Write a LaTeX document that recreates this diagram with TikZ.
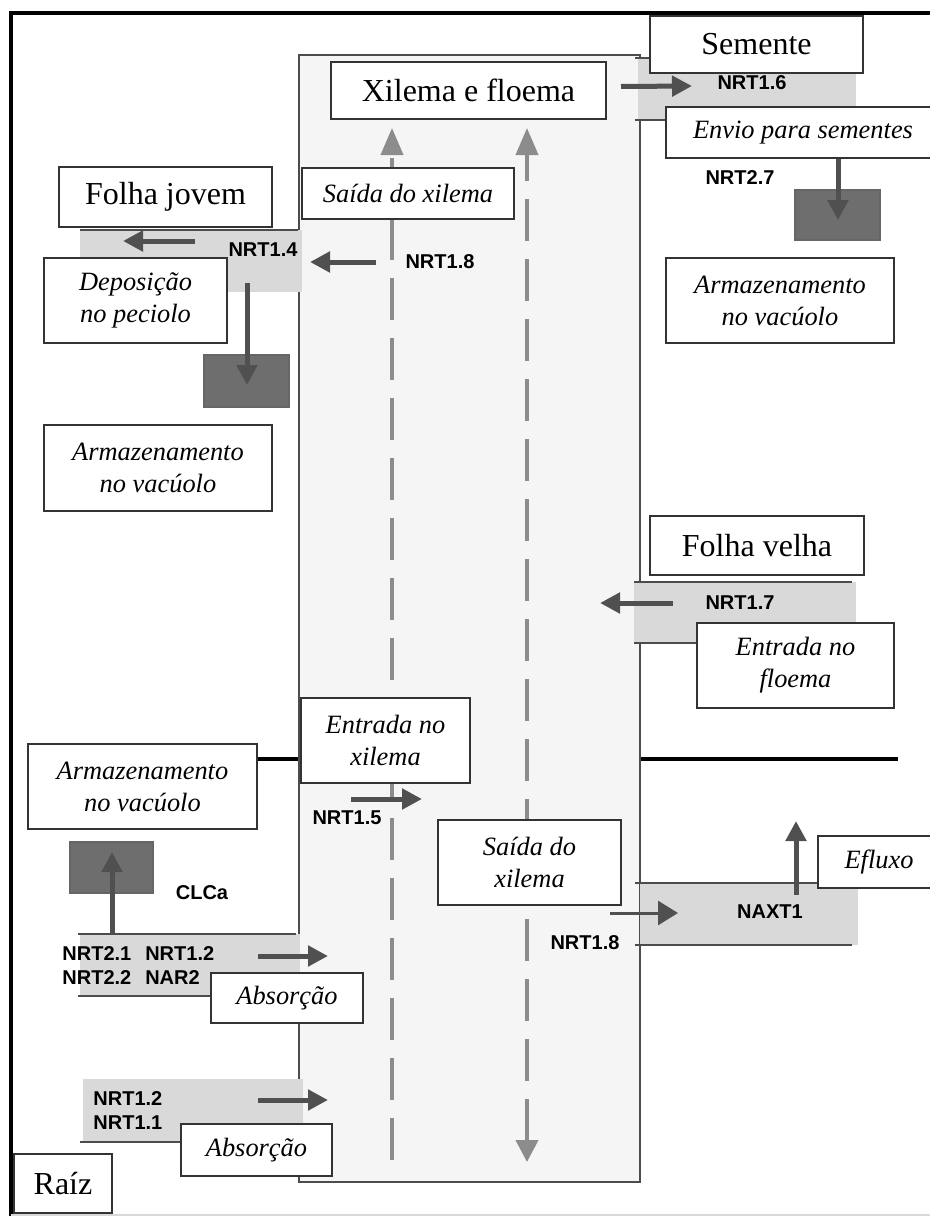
\documentclass[tikz,border=0pt]{standalone}
\usepackage{fontspec}
\setmainfont{Liberation Serif}
\setsansfont{Liberation Sans}
\usetikzlibrary{arrows.meta}
\definecolor{painel}{HTML}{F5F5F5}
\definecolor{faixa}{HTML}{D9D9D9}
\definecolor{seta}{HTML}{505050}
\definecolor{tracejado}{HTML}{8C8C8C}
\definecolor{vacuolo}{HTML}{6E6E6E}

\begin{document}
\begin{tikzpicture}[x=0.5pt,y=-0.5pt,
	caixa/.style={draw=black!80,fill=white,line width=1pt,inner sep=0pt,align=center},
	titulo/.style={caixa,font=\fontsize{16}{19}\selectfont},
	rotulo/.style={caixa,font=\fontsize{13.2}{16}\selectfont\itshape},
	gene/.style={font=\fontsize{10}{12}\selectfont\sffamily\bfseries,inner sep=0pt,align=left},
	faixa/.style={fill=faixa,draw=none},
	borda/.style={draw=black!70,line width=1pt},
	seta/.style={draw=seta,line width=2.5pt,-{Triangle[length=10pt,width=10pt]}},
	fluxo/.style={draw=tracejado,line width=2pt,dash pattern=on 21pt off 9pt},
	vac/.style={fill=vacuolo,draw=black!60,line width=1pt,inner sep=0pt}]
	\useasboundingbox (0,0) rectangle (930,1216);
	\draw[black,line width=2pt] (940,13) -- (11,13) -- (11,1216);
	\draw[black!15,line width=1pt] (11,1215) -- (930,1215);
	\draw[black,line width=2pt] (257,759) -- (898,759);
	\draw[borda,fill=painel] (299,55) rectangle (640,1182);
	% faixas
	\fill[faixa] (80,230) rectangle (302,292);
	\draw[borda] (80,230) -- (298,230);
	\fill[faixa] (638,58) rectangle (856,120);
	\draw[borda] (635,58) -- (856,58) (635,120) -- (856,120);
	\fill[faixa] (634,582) rectangle (856,643);
	\draw[borda] (634,582) -- (852,582) (634,643) -- (852,643);
	\fill[faixa] (640,883) rectangle (858,945);
	\draw[borda] (635,883) -- (852,883) (635,945) -- (852,945);
	\fill[faixa] (80,934) rectangle (300,996);
	\draw[borda] (78,934) -- (296,934) (78,996) -- (296,996);
	\fill[faixa] (83,1079) rectangle (303,1142);
	\draw[borda] (80,1142) -- (200,1142);
	% xilema e floema
	\coordinate (xbase) at (392,1160);
	\coordinate (xtopo) at (392,128);
	\coordinate (fbase) at (527,1162);
	\coordinate (ftopo) at (527,128);
	\draw[fluxo,-{Triangle[length=13.5pt,width=11pt]}] (xbase) -- (xtopo);
	\draw[fluxo,{Triangle[length=11pt,width=11pt]}-{Triangle[length=13.5pt,width=11pt]}] (fbase) -- (ftopo);
	\node[titulo,minimum width=137.5pt,minimum height=28.5pt] (xf) at (468.5,90.5) {Xilema e floema};
	\node[titulo,minimum width=106.5pt,minimum height=28.5pt] (sem) at (756.5,44.5) {Semente};
	\node[rotulo,minimum width=137pt,minimum height=25.5pt] (envio) at (803,132.5) {Envio para sementes};
	\node[rotulo,minimum width=114pt,minimum height=42.5pt] (armS) at (780,300.5) {Armazenamento\\no vacúolo};
	\node[titulo,minimum width=106.5pt,minimum height=30pt] (fj) at (165.5,197) {Folha jovem};
	\node[rotulo,minimum width=106pt,minimum height=25.5pt] (sx1) at (408,193.5) {Saída do xilema};
	\node[rotulo,minimum width=91.5pt,minimum height=42.5pt] (dep) at (135.5,300.5) {Deposição\\no peciolo};
	\node[rotulo,minimum width=114pt,minimum height=43pt] (armJ) at (158,468) {Armazenamento\\no vacúolo};
	\node[titulo,minimum width=107pt,minimum height=29.5pt] (fv) at (757,545.5) {Folha velha};
	\node[rotulo,minimum width=98.5pt,minimum height=42.5pt] (ef) at (795.5,665.5) {Entrada no\\floema};
	\node[rotulo,minimum width=84.5pt,minimum height=42.5pt] (ex) at (385.5,740.5) {Entrada no\\xilema};
	\node[rotulo,minimum width=114.5pt,minimum height=42.5pt] (armR) at (142.5,786.5) {Armazenamento\\no vacúolo};
	\node[rotulo,minimum width=91.5pt,minimum height=42.5pt] (sx2) at (529.5,862.5) {Saída do\\xilema};
	\node[rotulo,minimum width=61pt,minimum height=26pt] (efl) at (879,862) {Efluxo};
	\node[rotulo,minimum width=76pt,minimum height=25pt] (abs1) at (287,998) {Absorção};
	\node[rotulo,minimum width=75.5pt,minimum height=26pt] (abs2) at (256.5,1150) {Absorção};
	\node[titulo,minimum width=49pt,minimum height=29.5pt] (raiz) at (63,1183.5) {Raíz};
	% vacuolos
	\node[vac,minimum width=42.5pt,minimum height=25pt] (vacS) at (837.5,215) {};
	\node[vac,minimum width=42.5pt,minimum height=26pt] (vacJ) at (246.5,381) {};
	\node[vac,minimum width=41.5pt,minimum height=25.5pt] (vacR) at (111.5,867.5) {};
	% transportadores
	\node[gene] (n16) at (752,83) {NRT1.6};
	\node[gene] (n27) at (740,178) {NRT2.7};
	\node[gene] (n14) at (263,250) {NRT1.4};
	\node[gene] (n18a) at (440,262) {NRT1.8};
	\node[gene] (n17) at (740,603) {NRT1.7};
	\node[gene] (n15) at (347,818) {NRT1.5};
	\node[gene] (n18b) at (585,943) {NRT1.8};
	\node[gene] (naxt) at (770,912) {NAXT1};
	\node[gene] (clca) at (202,893) {CLCa};
	\node[gene,anchor=west] (n21) at (62,966) {NRT2.1\hspace{0.7em}NRT1.2\\NRT2.2\hspace{0.7em}NAR2};
	\node[gene,anchor=west] (n12) at (93,1110.5) {NRT1.2\\NRT1.1};
	% setas
	\coordinate (a16) at (692,86);
	\coordinate (a14) at (123,241);
	\coordinate (b14) at (195,241);
	\coordinate (a18) at (310,262);
	\coordinate (a17) at (600,603);
	\coordinate (b15) at (351,799);
	\coordinate (a15) at (422,799);
	\coordinate (b18) at (610,913);
	\coordinate (a18b) at (678,913);
	\coordinate (axt) at (796,821);
	\coordinate (a21) at (328,956);
	\coordinate (b21) at (258,956);
	\coordinate (a12) at (328,1100);
	\coordinate (b12) at (258,1100);
	\draw[seta] ([xshift=7pt,yshift=2pt]xf.east) -- (a16);
	\draw[seta] (envio.south -| 838,0) -- ([yshift=-2.5pt]vacS.center -| 838,0);
	\draw[seta] (b14) -- (a14);
	\draw[seta] ([xshift=-2pt]n18a.west -| 380,0) -- (a18);
	\draw[seta] (247,283) -- ([yshift=-2pt]vacJ.center -| 247,0);
	\draw[seta] ([xshift=-16pt]n17.west) -- (a17);
	\draw[seta] (b15) -- (a15);
	\draw[seta,line width=1.5pt,-{Triangle[length=10pt,width=12pt]}] (b18) -- (a18b);
	\draw[seta] (naxt.north -| 796,0) ++(0,-10) -- (axt);
	\draw[seta] (112,933) -- ([yshift=-5.5pt]vacR.north -| 112,0);
	\draw[seta] (b21) -- (a21);
	\draw[seta] (b12) -- (a12);
\end{tikzpicture}
\end{document}
